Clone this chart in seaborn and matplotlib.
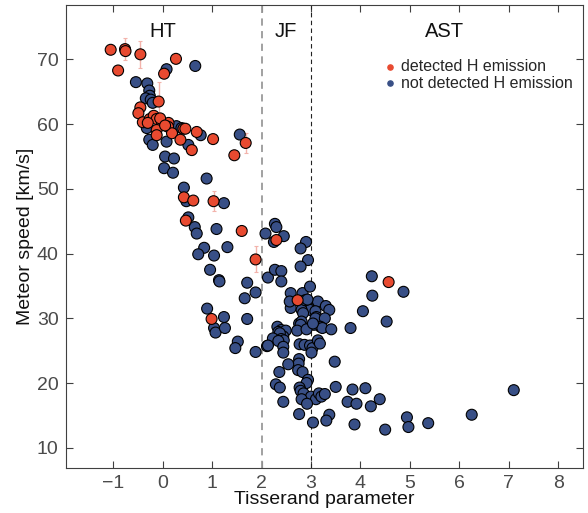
import numpy as np
import pandas as pd
import matplotlib
matplotlib.use("Agg")
import matplotlib.pyplot as plt
import seaborn as sns

# Tisserand parameter and speed of meteors with detected H emission
det_T = [-1.05, -0.76, -0.75, -0.45, -0.90, 0.27, 0.03, -0.08, -0.45, -0.49,
         -0.40, -0.26, -0.18, -0.12, -0.01, 0.12, 0.11, -0.12, -0.12, 0.19,
         0.36, 0.42, 0.46, 0.69, 0.59, 1.02, 1.45, 1.68, 0.43, 0.62,
         1.03, 0.47, 1.60, 2.30, 1.88, 0.99, 2.73, 4.57, -0.05, 0.05, -0.30]
det_V = [71.5, 71.6, 71.3, 70.8, 68.3, 70.1, 67.8, 63.5, 62.6, 61.7,
         60.3, 60.8, 61.3, 60.8, 60.2, 60.2, 59.6, 59.1, 58.3, 58.6,
         57.6, 59.3, 59.3, 58.8, 56.0, 57.7, 55.2, 57.1, 48.7, 48.2,
         48.1, 45.1, 43.5, 42.1, 39.1, 29.9, 32.8, 35.6, 60.9, 59.8, 60.2]
# speed uncertainty of the detected meteors (0 = not shown)
det_err = [0.0, 1.7, 0.0, 2.1, 0.0, 0.0, 0.0, 3.0, 0.0, 0.0,
           0.0, 0.0, 0.0, 0.0, 0.0, 0.0, 0.0, 0.0, 0.0, 0.0,
           0.0, 0.0, 0.0, 0.0, 0.8, 0.0, 0.0, 1.5, 0.0, 0.0,
           1.5, 0.0, 0.5, 0.0, 2.0, 0.0, 1.5, 0.0, 0.0, 0.0, 0.0]

# meteors without H emission
non_T = [-0.54, -0.31, -0.27, -0.26, -0.34, -0.24, -0.20, 0.08, 0.66, 1.56,
         -0.32, 0.28, 0.38, 0.77, -0.27, -0.20, 0.08, 0.52, 0.05, 0.23,
         0.03, 0.21, 0.89, 0.43, 0.48, 1.24, 0.52, 0.65, 0.69, 1.09,
         2.08, 0.84, 1.31, 0.72, 1.04, 0.96, 1.14, 1.15, 1.71, 1.88,
         1.66, 2.13, 0.90, 1.24, 1.71, 1.04, 1.07, 1.26, 1.52, 1.47,
         1.88, 2.11,
         2.27, 2.30, 2.45, 2.25, 2.90, 2.79, 2.94, 2.79, 2.27, 2.40,
         2.40, 4.23, 4.24, 4.87, 2.59, 2.83, 2.98, 2.59, 2.57, 2.91,
         2.94, 2.87, 2.98, 3.14, 3.30, 3.37, 3.09, 3.11, 3.09, 3.28,
         3.19, 3.06, 3.23, 3.41, 3.80, 4.05, 4.53, 2.81, 2.84, 2.76,
         2.81, 2.79, 2.72, 2.91, 3.04, 2.32, 2.40, 2.34, 2.49, 2.44,
         2.37, 2.23, 2.40, 2.45, 2.34, 2.13, 2.44, 2.44, 2.77, 2.87,
         2.98, 3.03, 3.01, 3.14, 3.18, 2.76, 2.75, 2.74, 2.83, 2.54,
         2.36, 3.48, 2.94, 2.91, 2.29, 2.37, 2.77, 2.79, 2.85, 3.00,
         3.10, 3.16, 3.21, 3.28, 2.81, 2.44, 3.50, 3.84, 4.10, 4.39,
         3.74, 3.92, 4.21, 2.92, 2.76, 3.37, 3.31, 3.04, 3.88, 4.50,
         4.94, 4.97, 5.37, 6.25, 7.10, 2.88, 2.93]
non_V = [66.5, 66.3, 65.2, 64.4, 64.0, 63.8, 63.3, 68.5, 69.0, 58.4,
         59.4, 59.7, 59.4, 58.3, 57.6, 56.8, 57.3, 56.8, 55.0, 54.7,
         53.2, 52.5, 51.6, 50.2, 48.1, 47.8, 45.6, 44.1, 43.1, 43.8,
         43.1, 40.9, 41.0, 39.9, 39.7, 37.5, 35.9, 35.7, 35.5, 34.0,
         33.1, 36.3, 31.5, 30.2, 29.9, 28.5, 27.8, 28.5, 26.4, 25.4,
         24.8, 25.7,
         44.6, 44.1, 42.7, 41.8, 41.8, 40.8, 39.0, 38.0, 37.5, 37.3,
         35.7, 36.5, 33.5, 34.1, 33.9, 33.9, 34.9, 31.6, 32.6, 32.3,
         31.9, 31.8, 31.3, 32.6, 31.9, 31.3, 31.1, 30.2, 30.0, 30.0,
         28.7, 29.0, 28.5, 28.3, 28.5, 31.1, 29.5, 31.3, 30.8, 29.2,
         29.5, 29.0, 28.1, 28.3, 29.2, 28.7, 28.2, 27.9, 28.1, 27.2,
         27.7, 26.9, 26.8, 26.6, 26.5, 25.8, 25.6, 24.7, 26.0, 25.9,
         25.8, 25.4, 24.7, 26.6, 26.1, 23.7, 23.0, 22.0, 21.7, 22.9,
         21.7, 23.3, 20.5, 20.0, 19.8, 19.3, 19.3, 18.8, 18.4, 17.9,
         17.5, 18.4, 17.9, 18.3, 17.5, 17.1, 19.4, 19.0, 19.2, 17.5,
         17.1, 16.8, 16.4, 16.8, 15.2, 15.1, 14.2, 13.9, 13.6, 12.8,
         14.7, 13.2, 13.8, 15.1, 18.9, 32.8, 32.9]

# orbital class boundaries in Tisserand parameter
class_labels = ["HT", "JF", "AST"]
class_label_T = [0.0, 2.5, 5.7]
class_bounds = [2.0, 3.0]

x_ticks = [-1, 0, 1, 2, 3, 4, 5, 6, 7, 8]
y_ticks = [10, 20, 30, 40, 50, 60, 70]

RED = "#e84a30"
BLUE = "#384f86"
LAB_DET = "detected H emission"
LAB_NON = "not detected H emission"

df = pd.concat([
    pd.DataFrame({"T": non_T, "V": non_V, "group": LAB_NON}),
    pd.DataFrame({"T": det_T, "V": det_V, "group": LAB_DET}),
], ignore_index=True)

sns.set_theme(style="white")
plt.rcParams["font.family"] = ["Liberation Sans", "DejaVu Sans"]

fig = plt.figure(figsize=(5.88, 5.13), dpi=100)
ax = fig.add_axes([0.1117, 0.0871, 0.8798, 0.9029])

# class boundaries
ax.axvline(class_bounds[0], color="#9a9a9a", ls=(0, (4, 3)), lw=1.3, zorder=1)
ax.axvline(class_bounds[1], color="#222222", ls=(0, (4, 3)), lw=0.8, zorder=1)

# speed uncertainties of H-emitting meteors
err = np.array(det_err)
m = err > 0
ax.errorbar(np.array(det_T)[m], np.array(det_V)[m], yerr=err[m], fmt="none",
            ecolor="#f3b3ab", elinewidth=1.0, capsize=1.5, capthick=0.8, zorder=2)

sns.scatterplot(data=df, x="T", y="V", hue="group",
                hue_order=[LAB_DET, LAB_NON], palette=[RED, BLUE],
                s=62, edgecolor="black", linewidth=0.8, ax=ax, zorder=3,
                legend=False)

for lab, t in zip(class_labels, class_label_T):
    ax.text(t, 74.3, lab, ha="center", va="center", fontsize=14.5, color="#111111")

# legend with small dots
h1 = ax.scatter([], [], s=14, color=RED, label=LAB_DET)
h2 = ax.scatter([], [], s=14, color=BLUE, label=LAB_NON)
ax.legend(handles=[h1, h2], loc="upper left", bbox_to_anchor=(0.597, 0.898),
          frameon=False, fontsize=11.5, handletextpad=0.15, labelspacing=0.12,
          borderaxespad=0.0, handlelength=1.1)

ax.set_xlim(-1.96, 8.5)
ax.set_ylim(6.82, 78.4)
ax.set_xticks(x_ticks)
ax.set_yticks(y_ticks)
ax.set_xticklabels(["\u22121" if t == -1 else str(t) for t in x_ticks])
ax.set_xlabel("Tisserand parameter", fontsize=14, color="#111111", labelpad=-1)
ax.set_ylabel("Meteor speed [km/s]", fontsize=14, color="#111111", labelpad=2)

for sp in ax.spines.values():
    sp.set_color("#404040")
    sp.set_linewidth(0.8)
ax.tick_params(direction="in", length=5, width=0.8, color="#404040",
               labelsize=14, labelcolor="#4a4a4a", top=True, right=True,
               bottom=True, left=True, pad=5)
ax.tick_params(axis="x", labelbottom=True, labeltop=False)
ax.tick_params(axis="y", labelleft=True, labelright=False)

fig.savefig("out.png", dpi=100)
